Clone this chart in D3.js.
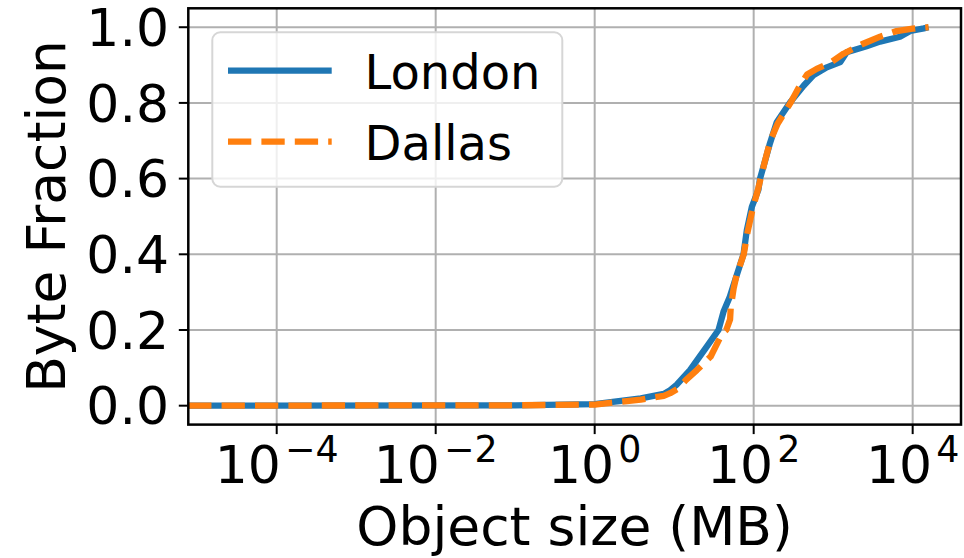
<!DOCTYPE html>
<html><head><meta charset="utf-8">
<script src="https://cdn.jsdelivr.net/npm/d3@7"></script>
<style>body{margin:0;background:#fff} text{font-family:"DejaVu Sans",sans-serif;fill:#000}</style>
</head><body><svg id="c" width="964" height="558"></svg>
<script>
// Data (object size in MB, cumulative byte fraction)
const londonSize = [7.7e-6, 0.1, 1, 3.8, 7.4, 8.9, 10.7, 15.8, 25.7, 36.1, 41.7, 50.1, 58.5, 74.5, 82, 94.8, 114.8, 120.2, 139.6, 158.5, 195, 288, 427, 562, 832, 1230, 1479, 2630, 3890, 6918, 9333, 13800, 15850];
const londonFrac = [0, 0.001, 0.004, 0.0195, 0.031, 0.041, 0.055, 0.094, 0.156, 0.2, 0.248, 0.288, 0.332, 0.4, 0.464, 0.525, 0.571, 0.6, 0.648, 0.69, 0.749, 0.802, 0.846, 0.873, 0.894, 0.908, 0.934, 0.95, 0.962, 0.975, 0.99, 0.997, 1.0];
const dallasSize = [7.7e-6, 0.1, 1, 3.8, 7.4, 8.9, 11.2, 14.1, 19.3, 28.8, 40, 45.2, 50.5, 51.5, 56, 61, 75, 84, 97, 113, 122, 140, 162, 200, 290, 380, 470, 620, 900, 1350, 2300, 3900, 6300, 10000, 15850];
const dallasFrac = [0, 0.001, 0.003, 0.016, 0.026, 0.033, 0.045, 0.068, 0.094, 0.13, 0.19, 0.2, 0.228, 0.26, 0.31, 0.345, 0.4, 0.46, 0.52, 0.57, 0.6, 0.65, 0.7, 0.745, 0.8, 0.845, 0.875, 0.89, 0.905, 0.93, 0.955, 0.975, 0.99, 0.996, 1.0];
const seriesNames = ["London", "Dallas"];
const xTickExps = [-4, -2, 0, 2, 4];
const yTickVals = [0, 0.2, 0.4, 0.6, 0.8, 1.0];
const xLabel = "Object size (MB)";
const yLabel = "Byte Fraction";

const W = 964, H = 558;
const L = 188.3, R = 961, T = 8.3, B = 424.6;
const FS = 52, LFS = 53.5, GFS = 48;
const svg = d3.select("#c");

const x = d3.scaleLog().domain([7.727e-6, 40550]).range([L, R]);
const y = d3.scaleLinear().domain([-0.05, 1.05]).range([B, T]);

svg.append("defs").append("clipPath").attr("id", "clip")
  .append("rect").attr("x", L).attr("y", T).attr("width", R - L).attr("height", B - T);

// grid
const grid = svg.append("g").attr("stroke", "#b0b0b0").attr("stroke-width", 2);
xTickExps.forEach(e => {
  const v = Math.pow(10, e);
  grid.append("line").attr("x1", x(v)).attr("x2", x(v)).attr("y1", T).attr("y2", B);
});
yTickVals.forEach(v => {
  grid.append("line").attr("x1", L).attr("x2", R).attr("y1", y(v)).attr("y2", y(v));
});

// lines
const series = [
  {name: seriesNames[0], xs: londonSize, ys: londonFrac, color: "#1f77b4", dash: null},
  {name: seriesNames[1], xs: dallasSize, ys: dallasFrac, color: "#ff7f0e", dash: "23.3,10.1"}
];
const line = d3.line().x(d => x(d[0])).y(d => y(d[1]));
const lg = svg.append("g").attr("clip-path", "url(#clip)");
series.forEach(s => {
  const pts = s.xs.map((v, i) => [v, s.ys[i]]);
  lg.append("path").attr("d", line(pts)).attr("fill", "none")
    .attr("stroke", s.color).attr("stroke-width", 6.3)
    .attr("stroke-linejoin", "round")
    .attr("stroke-dasharray", s.dash);
});

// spines
svg.append("rect").attr("x", L).attr("y", T).attr("width", R - L).attr("height", B - T)
  .attr("fill", "none").attr("stroke", "#000").attr("stroke-width", 2.5);

// x ticks
const xt = svg.append("g");
xTickExps.forEach(e => {
  const v = Math.pow(10, e);
  const px = x(v);
  xt.append("line").attr("x1", px).attr("x2", px).attr("y1", B).attr("y2", B + 9.5)
    .attr("stroke", "#000").attr("stroke-width", 2);
  const t = xt.append("text").attr("x", px).attr("y", 483).attr("text-anchor", "middle")
    .attr("font-size", FS);
  t.append("tspan").text("10");
  t.append("tspan").attr("font-size", FS * 0.7).attr("dx", 4).attr("dy", -21)
    .text(e < 0 ? "\u2212" + Math.abs(e) : String(e));
});

// y ticks
const yt = svg.append("g");
yTickVals.forEach(v => {
  const py = y(v);
  yt.append("line").attr("x1", L - 9.5).attr("x2", L).attr("y1", py).attr("y2", py)
    .attr("stroke", "#000").attr("stroke-width", 2);
  yt.append("text").attr("x", 169).attr("y", py + FS * 0.36).attr("text-anchor", "end")
    .attr("font-size", FS).text(d3.format(".1f")(v));
});

// axis labels
svg.append("text").attr("x", (L + R) / 2).attr("y", 544.5).attr("text-anchor", "middle")
  .attr("font-size", LFS).text(xLabel);
svg.append("text").attr("transform", `translate(65,${(T + B) / 2}) rotate(-90)`)
  .attr("text-anchor", "middle").attr("font-size", LFS).text(yLabel);

// legend
const leg = svg.append("g");
leg.append("rect").attr("x", 212.3).attr("y", 32.3).attr("width", 350).attr("height", 154.4)
  .attr("rx", 8).attr("ry", 8).attr("fill", "rgba(255,255,255,0.8)")
  .attr("stroke", "#d6d6d6").attr("stroke-width", 2);
const legY = [70.7, 141.7];
series.forEach((s, i) => {
  leg.append("line").attr("x1", 228).attr("x2", 331.7).attr("y1", legY[i]).attr("y2", legY[i])
    .attr("stroke", s.color).attr("stroke-width", 6.3).attr("stroke-dasharray", s.dash);
  leg.append("text").attr("x", 364.5).attr("y", legY[i] + 18.6).attr("font-size", GFS).text(s.name);
});
</script></body></html>
